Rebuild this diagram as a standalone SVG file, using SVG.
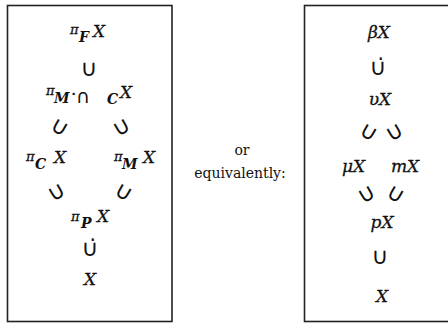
<svg xmlns="http://www.w3.org/2000/svg" width="448" height="324" viewBox="0 0 448 324">
<style>
.box{fill:none;stroke:#222;stroke-width:1.6}
.m{font-family:"DejaVu Serif","Liberation Serif",serif;font-style:italic;font-size:17px;fill:#111;stroke:#111;stroke-width:0.3}
.pi{font-family:"DejaVu Serif","Liberation Serif",serif;font-style:italic;font-size:13px;fill:#111;stroke:#111;stroke-width:0.3}
.sb{font-family:"DejaVu Serif","Liberation Serif",serif;font-style:italic;font-weight:bold;font-size:14px;fill:#111}
.rel{font-family:"DejaVu Sans","Liberation Sans",sans-serif;font-size:23px;fill:#111;text-anchor:middle}
.txt{font-family:"DejaVu Serif","Liberation Serif",serif;font-size:14px;fill:#111;text-anchor:middle}
</style>
<rect width="448" height="324" fill="#fff"/>
<g id="left-box">
<rect class="box" x="7.5" y="5.5" width="164.5" height="316"/>
<g id="piF">
<text class="pi" x="70" y="34">π</text><text class="sb" x="79" y="42">F</text><text class="m" x="93" y="37">X</text>
</g>
<text class="rel" x="89" y="76">∪</text>
<g id="piMC">
<text class="pi" x="46" y="95">π</text><text class="sb" x="54" y="103">M</text><text class="m" x="71" y="100" style="font-style:normal">·</text><text class="rel" x="83" y="103" style="font-size:19px">∩</text><text class="sb" x="107" y="104">C</text><text class="m" x="120" y="98">X</text>
</g>
<text class="rel" x="59" y="134" transform="rotate(30 59 128)">∪</text>
<text class="rel" x="122" y="134" transform="rotate(-30 122 128)">∪</text>
<g id="piC">
<text class="pi" x="26" y="161">π</text><text class="sb" x="35" y="169">C</text><text class="m" x="54" y="163">X</text>
</g>
<g id="piM">
<text class="pi" x="114" y="161">π</text><text class="sb" x="122" y="169">M</text><text class="m" x="143" y="163">X</text>
</g>
<text class="rel" x="57" y="199" transform="rotate(-30 57 193)">∪</text>
<text class="rel" x="123" y="199" transform="rotate(30 123 193)">∪</text>
<g id="piP">
<text class="pi" x="71" y="221">π</text><text class="sb" x="81" y="228">P</text><text class="m" x="97" y="222">X</text>
</g>
<text class="rel" x="90" y="256">∪̇</text>
<text class="m" x="90" y="285" text-anchor="middle">X</text>
</g>
<g id="middle">
<text class="txt" x="242" y="155">or</text>
<text class="txt" x="240" y="178">equivalently:</text>
</g>
<g id="right-box">
<rect class="box" x="304.5" y="5.5" width="146" height="316"/>
<text class="m" x="379" y="38" text-anchor="middle">βX</text>
<text class="rel" x="378" y="75">∪̇</text>
<text class="m" x="380" y="105" text-anchor="middle">υX</text>
<text class="rel" x="368" y="139" transform="rotate(30 368 133)">∪</text>
<text class="rel" x="395" y="139" transform="rotate(-30 395 133)">∪</text>
<text class="m" x="342" y="172">μX</text>
<text class="m" x="391" y="172">mX</text>
<text class="rel" x="367" y="201" transform="rotate(-30 367 195)">∪</text>
<text class="rel" x="395" y="201" transform="rotate(30 395 195)">∪</text>
<text class="m" x="382" y="228" text-anchor="middle">pX</text>
<text class="rel" x="380" y="264">∪</text>
<text class="m" x="382" y="302" text-anchor="middle">X</text>
</g>
</svg>
